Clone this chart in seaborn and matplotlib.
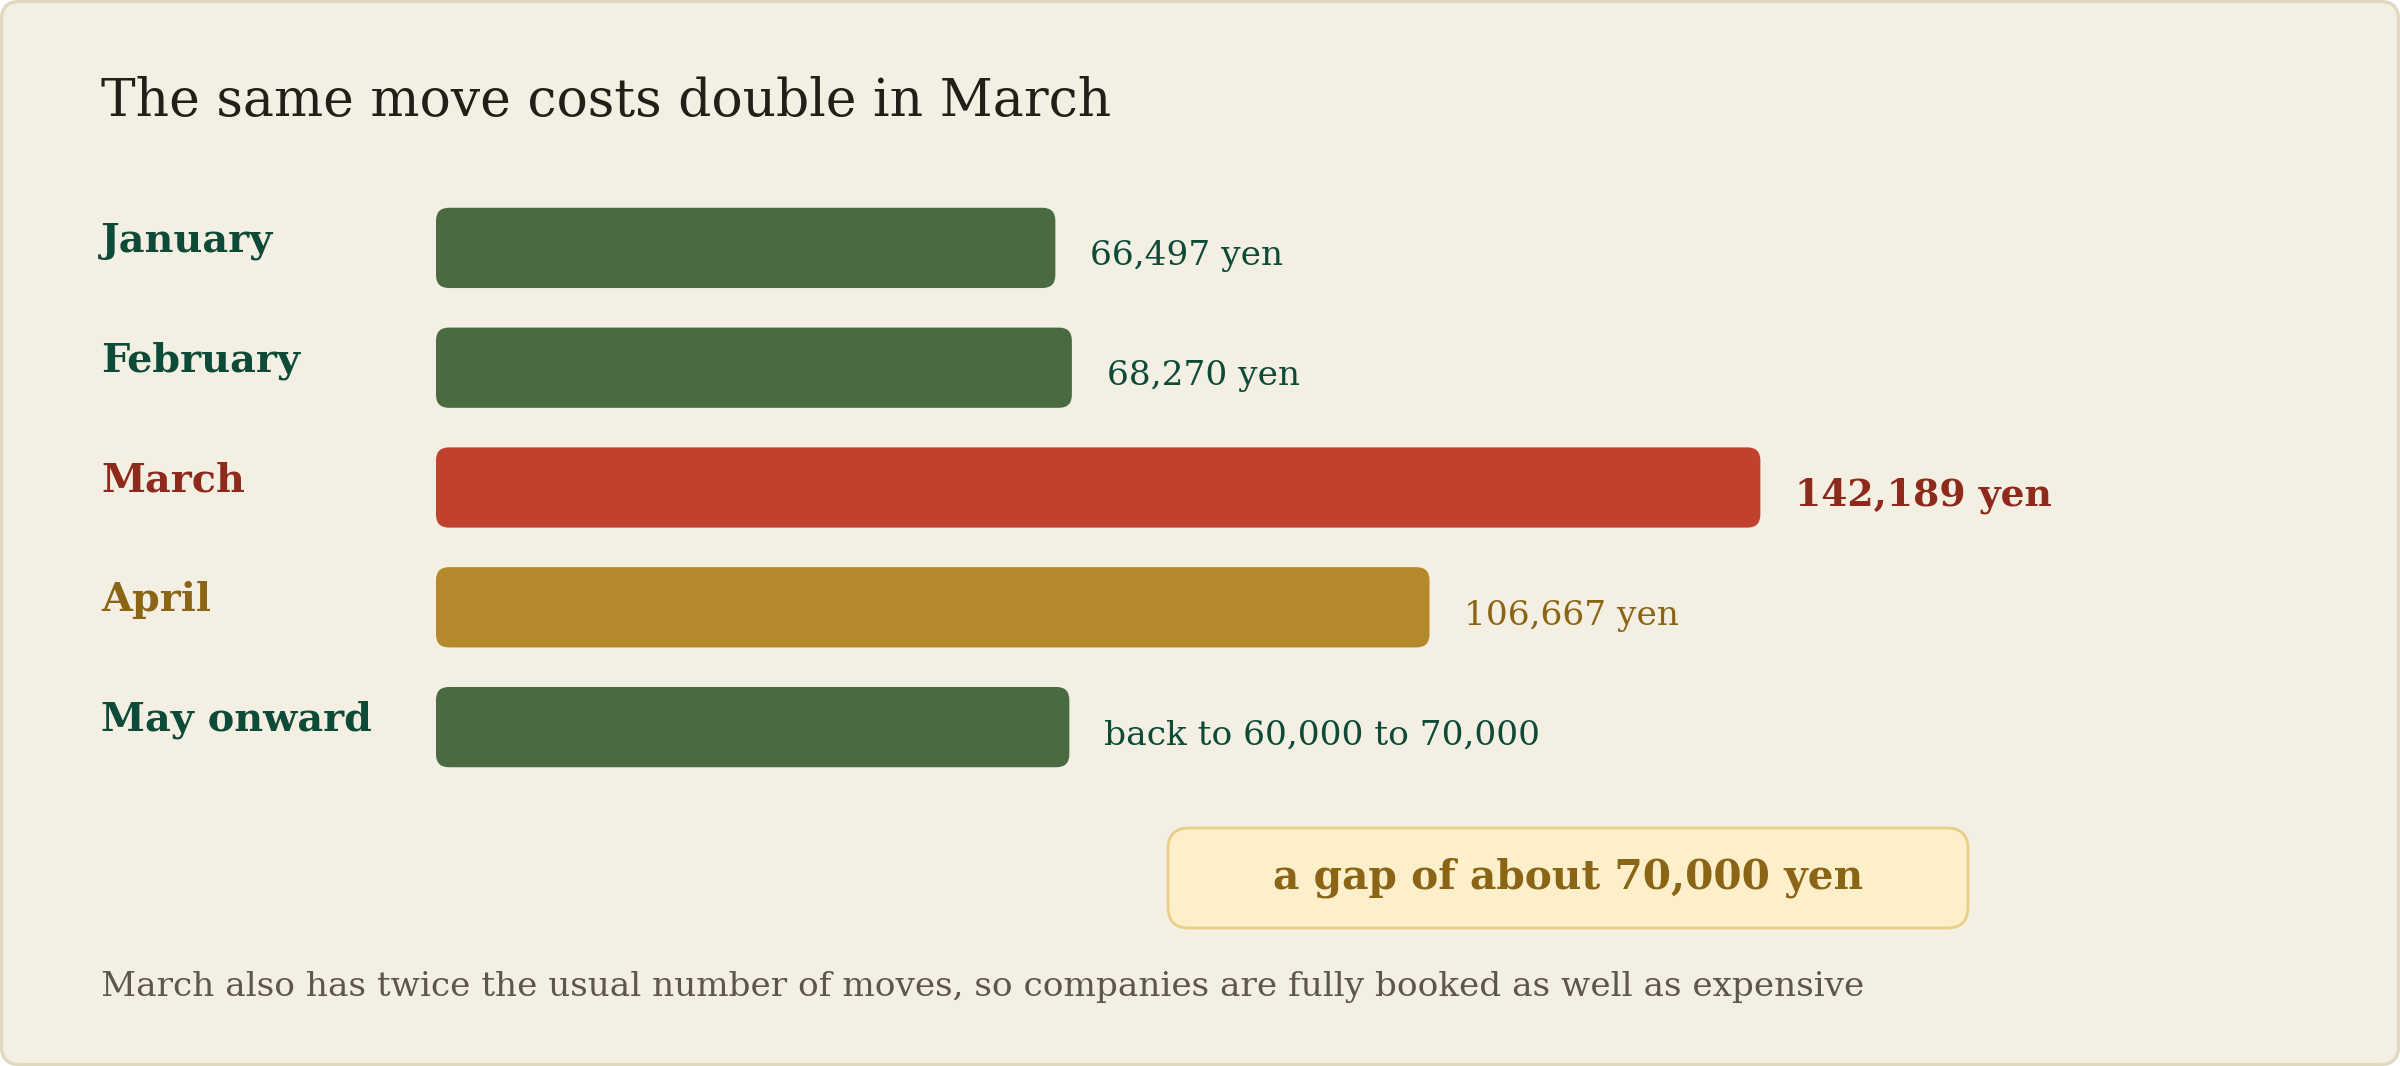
import matplotlib
matplotlib.use("Agg")
import matplotlib.pyplot as plt
import matplotlib.transforms as mtrans
from matplotlib.patches import FancyBboxPatch
import pandas as pd
import seaborn as sns

# data
months = ["January", "February", "March", "April", "May onward"]
costs = [66497, 68270, 142189, 106667, 68000]
value_labels = ["66,497 yen", "68,270 yen", "142,189 yen", "106,667 yen",
                "back to 60,000 to 70,000"]
bar_colors = ["#4a6b42", "#4a6b42", "#c0412e", "#b4892b", "#4a6b42"]
text_colors = ["#0d4a38", "#0d4a38", "#8e2a1b", "#8b6516", "#0d4a38"]
title = "The same move costs double in March"
callout = "a gap of about 70,000 yen"
footnote = ("March also has twice the usual number of moves, "
            "so companies are fully booked as well as expensive")

df = pd.DataFrame({"month": months, "cost": costs})

sns.set_style("white")
plt.rcParams["font.family"] = ["DejaVu Serif"]

W, H = 2400, 1066
fig = plt.figure(figsize=(12, 5.33), dpi=200, facecolor="white")

# card background
card = FancyBboxPatch((1.5 / W, 1.5 / H), 1 - 3 / W, 1 - 3 / H,
                      boxstyle="round,pad=0,rounding_size=%f" % (18 / W),
                      mutation_aspect=W / H, transform=fig.transFigure,
                      facecolor="#f4efe3", edgecolor="#e0d8c0", lw=1.2, zorder=-5)
fig.patches.append(card)

# bar axes
xmax = 200000
px_per_yen = 0.009314
row_px = 119.8
ax_left, ax_top = 436, 188
ax_w, ax_h = xmax * px_per_yen, 5 * row_px
ax = fig.add_axes([ax_left / W, 1 - (ax_top + ax_h) / H, ax_w / W, ax_h / H])
ax.set_facecolor("none")

sns.barplot(data=df, x="cost", y="month", hue="month", palette=bar_colors,
            legend=False, width=0.67, ax=ax, saturation=1)
ax.set_xlim(0, xmax)
ax.set_ylim(4.5, -0.5)
ax.axis("off")

# swap plain bars for rounded ones
r_px = 13
yen_per_px = 1 / px_per_yen
unit_per_px = 1 / row_px
for p in list(ax.patches):
    x0, y0, w, h = p.get_x(), p.get_y(), p.get_width(), p.get_height()
    fc = p.get_facecolor()
    p.remove()
    ax.add_patch(FancyBboxPatch((x0, y0), w, h,
                                boxstyle="round,pad=0,rounding_size=%f" % (r_px * yen_per_px),
                                mutation_aspect=unit_per_px / yen_per_px,
                                facecolor=fc, edgecolor="none", zorder=2))

# month names on the left
lab_tr = mtrans.blended_transform_factory(fig.transFigure, ax.transData)
for i, (m, c) in enumerate(zip(months, text_colors)):
    ax.text(101 / W, i - 0.06, m, transform=lab_tr, ha="left", va="center",
            fontsize=14.3, fontweight="bold", color=c)

# value labels after each bar
for i, (v, lab, c) in enumerate(zip(costs, value_labels, text_colors)):
    bold = months[i] == "March"
    ax.text(v + 35 * yen_per_px, i + 0.07, lab, ha="left", va="center",
            fontsize=13.6 if bold else 12.4,
            fontweight="bold" if bold else "normal", color=c)

# title
fig.text(101 / W, 1 - 116 / H, title, ha="left", va="baseline",
         fontsize=18.7, color="#221f18")

# callout box
bx0, bx1, by0, by1 = 1168, 1968, 828, 928
box = FancyBboxPatch((bx0 / W, 1 - by1 / H), (bx1 - bx0) / W, (by1 - by0) / H,
                     boxstyle="round,pad=0,rounding_size=%f" % (21 / W),
                     mutation_aspect=W / H, transform=fig.transFigure,
                     facecolor="#fcefc9", edgecolor="#e8cf88", lw=1.0, zorder=1)
fig.patches.append(box)
fig.text((bx0 + bx1) / 2 / W, 1 - (by0 + by1) / 2 / H, callout, ha="center",
         va="center", fontsize=14.7, fontweight="bold", color="#8b6516")

# footnote
fig.text(101 / W, 1 - 987 / H, footnote, ha="left", va="center",
         fontsize=12.35, color="#5c564b")

fig.savefig("out.png", dpi=200, facecolor=fig.get_facecolor())
